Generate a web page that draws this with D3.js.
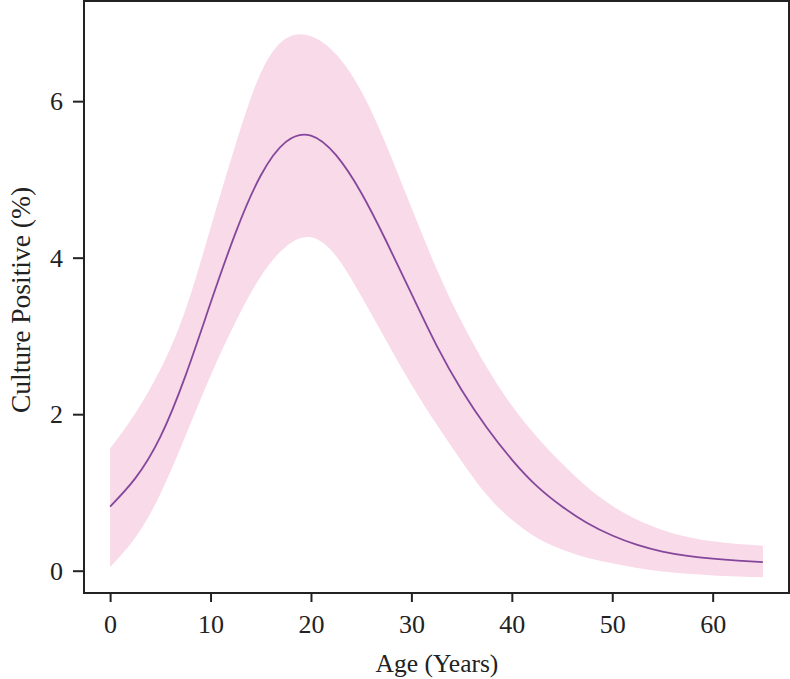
<!DOCTYPE html>
<html>
<head>
<meta charset="utf-8">
<script src="https://cdn.jsdelivr.net/npm/d3@7"></script>
<style>
  body { margin: 0; background: #fff; }
  svg text { font-family: "Liberation Serif", "DejaVu Serif", serif; fill: #222; }
</style>
</head>
<body>
<svg id="chart" width="790" height="679"></svg>
<script>
const ages  = [0, 2.5, 5, 7.5, 10, 12.5, 15, 17.5, 20, 22.5, 25, 27.5, 30, 32.5, 35, 37.5, 40, 42.5, 45, 47.5, 50, 52.5, 55, 57.5, 60, 62.5, 65];
// fitted % culture positive
const fit   = [0.82, 1.18, 1.71, 2.49, 3.42, 4.32, 5.05, 5.48, 5.56, 5.31, 4.83, 4.21, 3.54, 2.88, 2.31, 1.83, 1.42, 1.08, 0.82, 0.61, 0.45, 0.33, 0.245, 0.19, 0.155, 0.13, 0.11];
// confidence band
const upper = [1.56, 2.01, 2.57, 3.33, 4.38, 5.45, 6.36, 6.80, 6.83, 6.60, 6.13, 5.44, 4.64, 3.86, 3.18, 2.60, 2.11, 1.71, 1.37, 1.07, 0.83, 0.65, 0.52, 0.43, 0.375, 0.34, 0.32];
const lower = [0.05, 0.42, 0.98, 1.72, 2.49, 3.18, 3.76, 4.14, 4.26, 4.02, 3.51, 2.94, 2.38, 1.87, 1.40, 0.97, 0.65, 0.42, 0.27, 0.165, 0.095, 0.035, -0.01, -0.04, -0.06, -0.074, -0.085];

const xTicks = [0, 10, 20, 30, 40, 50, 60];
const yTicks = [0, 2, 4, 6];

const rows = ages.map((a, i) => ({ age: a, fit: fit[i], lo: lower[i], hi: upper[i] }));

// plot box
const box = { left: 84, right: 789, top: 1, bottom: 593 };

const x = d3.scaleLinear().domain([-2.6, 67.6]).range([box.left, box.right]);
const y = d3.scaleLinear().domain([-0.285, 7.28]).range([box.bottom, box.top]);

const svg = d3.select("#chart");
const smooth = d3.curveNatural;

// band
svg.append("path")
  .datum(rows)
  .attr("fill", "#f9dae8")
  .attr("d", d3.area()
    .x(d => x(d.age))
    .y0(d => y(d.lo))
    .y1(d => y(d.hi))
    .curve(smooth));

// fitted line
svg.append("path")
  .datum(rows)
  .attr("fill", "none")
  .attr("stroke", "#84479c")
  .attr("stroke-width", 1.8)
  .attr("d", d3.line()
    .x(d => x(d.age))
    .y(d => y(d.fit))
    .curve(smooth));

// box
svg.append("rect")
  .attr("x", box.left).attr("y", box.top)
  .attr("width", box.right - box.left).attr("height", box.bottom - box.top)
  .attr("fill", "none")
  .attr("stroke", "#222")
  .attr("stroke-width", 2);

// x axis
const xAxis = svg.append("g")
  .attr("transform", `translate(0,${box.bottom})`)
  .call(d3.axisBottom(x).tickValues(xTicks).tickSize(9).tickPadding(13));
xAxis.select(".domain").remove();
xAxis.selectAll("line").attr("stroke", "#222").attr("stroke-width", 2);
xAxis.selectAll("text").attr("font-size", 26).attr("fill", "#222")
  .style("font-family", '"Liberation Serif", serif');

// y axis
const yAxis = svg.append("g")
  .attr("transform", `translate(${box.left},0)`)
  .call(d3.axisLeft(y).tickValues(yTicks).tickSize(11).tickPadding(10));
yAxis.select(".domain").remove();
yAxis.selectAll("line").attr("stroke", "#222").attr("stroke-width", 2);
yAxis.selectAll("text").attr("font-size", 26).attr("fill", "#222")
  .style("font-family", '"Liberation Serif", serif');

// axis titles
svg.append("text")
  .attr("x", (box.left + box.right) / 2 + 0.5)
  .attr("y", 672)
  .attr("text-anchor", "middle")
  .attr("font-size", 25.5)
  .text("Age (Years)");

svg.append("text")
  .attr("transform", `translate(30,${(box.top + box.bottom) / 2 + 3}) rotate(-90)`)
  .attr("text-anchor", "middle")
  .attr("font-size", 27.5)
  .text("Culture Positive (%)");
</script>
</body>
</html>
